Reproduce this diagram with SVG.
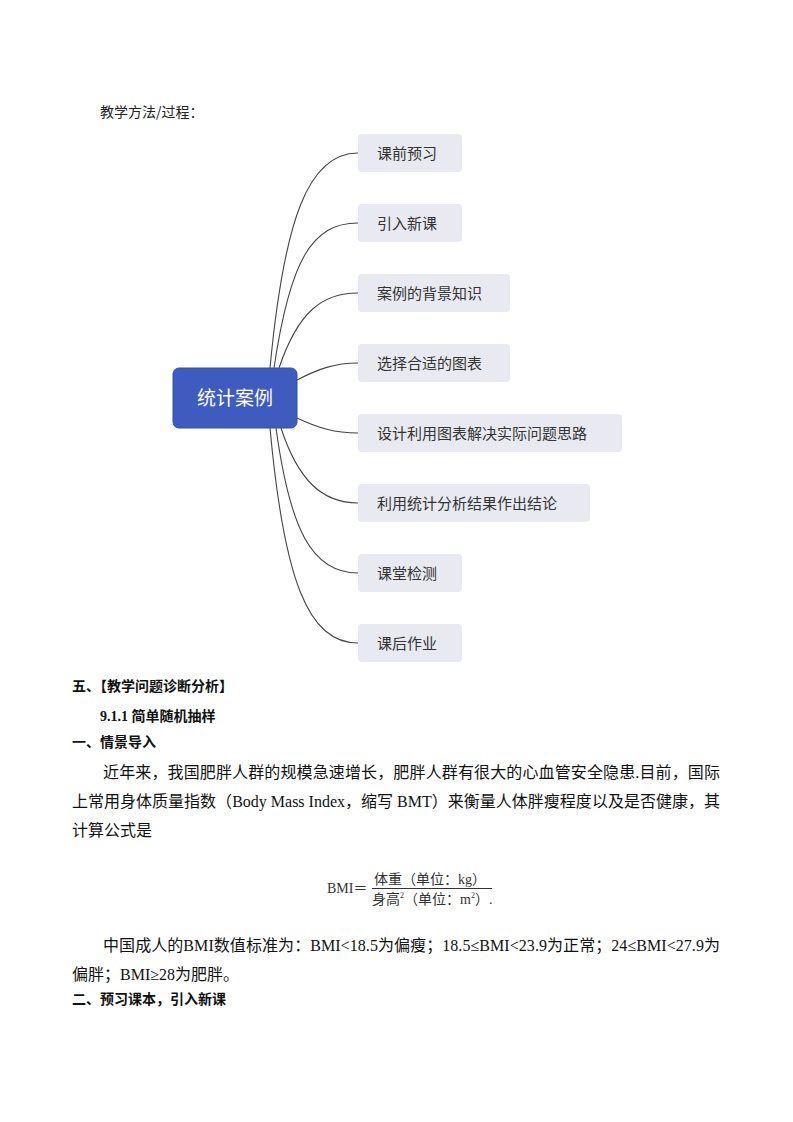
<svg xmlns="http://www.w3.org/2000/svg" width="793" height="1122" viewBox="0 0 793 1122">
<style>
.bg{fill:#ffffff}
.child rect{fill:#e9eaf1}
.child text{font-family:"Noto Sans CJK SC","Noto Sans",sans-serif;font-size:15px;fill:#333333}
.root rect{fill:#3e5bbf;stroke:#3550a8;stroke-width:1}
.root text{font-family:"Noto Sans CJK SC","Noto Sans",sans-serif;font-size:19px;fill:#ffffff}
.conn path{fill:none;stroke:#444444;stroke-width:1.1}
.body{font-family:"Liberation Serif","Noto Sans CJK SC",serif;font-size:16px;fill:#111111}
.bold{font-family:"Liberation Serif","Noto Sans CJK SC",serif;font-size:14px;font-weight:bold;fill:#111111}
.label{font-family:"Noto Sans CJK SC","Noto Sans",sans-serif;font-size:14px;fill:#222222}
.formula{font-family:"Liberation Serif","Noto Sans CJK SC",serif;font-size:14px;fill:#333333}
</style>
<rect class="bg" x="0" y="0" width="793" height="1122"/>
<text class="label" x="100" y="117">教学方法/过程：</text>
<g id="connectors" class="conn">
<path d="M270,368 C284,220 308,153 358,153"/>
<path d="M274,368 C290,260 312,223 358,223"/>
<path d="M279,368 C298,312 322,293 358,293"/>
<path d="M297,380 C318,369 335,363 358,363"/>
<path d="M297,418 C318,428 335,433 358,433"/>
<path d="M281,428 C298,480 322,503 358,503"/>
<path d="M276,428 C290,530 312,573 358,573"/>
<path d="M270,428 C284,580 308,643 358,643"/>
</g>
<g id="root" class="root">
<rect x="173" y="368" width="124" height="60" rx="6"/>
<text x="235" y="405" text-anchor="middle">统计案例</text>
</g>
<g id="n1" class="child"><rect x="358" y="134" width="104" height="38" rx="4"/><text x="377" y="159">课前预习</text></g>
<g id="n2" class="child"><rect x="358" y="204" width="104" height="38" rx="4"/><text x="377" y="229">引入新课</text></g>
<g id="n3" class="child"><rect x="358" y="274" width="152" height="38" rx="4"/><text x="377" y="299">案例的背景知识</text></g>
<g id="n4" class="child"><rect x="358" y="344" width="152" height="38" rx="4"/><text x="377" y="369">选择合适的图表</text></g>
<g id="n5" class="child"><rect x="358" y="414" width="264" height="38" rx="4"/><text x="377" y="439">设计利用图表解决实际问题思路</text></g>
<g id="n6" class="child"><rect x="358" y="484" width="232" height="38" rx="4"/><text x="377" y="509">利用统计分析结果作出结论</text></g>
<g id="n7" class="child"><rect x="358" y="554" width="104" height="38" rx="4"/><text x="377" y="579">课堂检测</text></g>
<g id="n8" class="child"><rect x="358" y="624" width="104" height="38" rx="4"/><text x="377" y="649">课后作业</text></g>
<text class="bold" x="72" y="691">五、【教学问题诊断分析】</text>
<text class="bold" x="100" y="721">9.1.1 简单随机抽样</text>
<text class="bold" x="72" y="747">一、情景导入</text>
<text class="body" x="103" y="778" textLength="617" lengthAdjust="spacing">近年来，我国肥胖人群的规模急速增长，肥胖人群有很大的心血管安全隐患.目前，国际</text>
<text class="body" x="72" y="807" textLength="648" lengthAdjust="spacing">上常用身体质量指数（Body Mass Index，缩写 BMT）来衡量人体胖瘦程度以及是否健康，其</text>
<text class="body" x="72" y="836">计算公式是</text>
<text class="formula" x="327" y="893">BMI＝</text>
<text class="formula" x="374" y="884">体重（单位：kg）</text>
<line x1="372" y1="888.5" x2="492" y2="888.5" stroke="#333333" stroke-width="1"/>
<text class="formula" x="372" y="904">身高<tspan font-size="8" dy="-6">2</tspan><tspan dy="6">（单位：m</tspan><tspan font-size="8" dy="-6">2</tspan><tspan dy="6">）.</tspan></text>
<text class="body" x="103" y="951" textLength="617" lengthAdjust="spacing">中国成人的BMI数值标准为：BMI&lt;18.5为偏瘦；18.5≤BMI&lt;23.9为正常；24≤BMI&lt;27.9为</text>
<text class="body" x="72" y="980">偏胖；BMI≥28为肥胖。</text>
<text class="bold" x="72" y="1004">二、预习课本，引入新课</text>
</svg>
